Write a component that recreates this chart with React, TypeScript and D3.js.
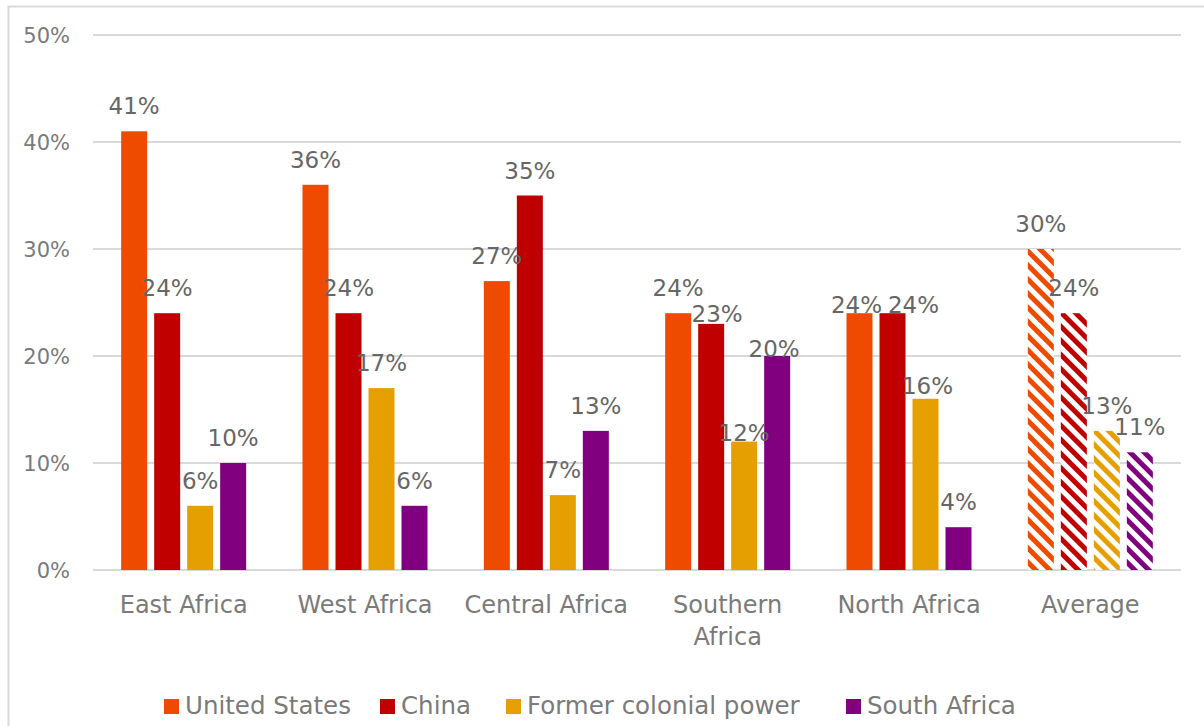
import React, { useEffect, useRef } from "react";
import * as d3 from "d3";

const categories = ["East Africa", "West Africa", "Central Africa", "Southern Africa", "North Africa", "Average"];
const seriesNames = ["United States", "China", "Former colonial power", "South Africa"];
const unitedStates = [41, 36, 27, 24, 24, 30];
const china = [24, 24, 35, 23, 24, 24];
const formerColonial = [6, 17, 7, 12, 16, 13];
const southAfrica = [10, 6, 13, 20, 4, 11];
const yTicks = [0, 10, 20, 30, 40, 50];
const hatchedCategories = ["Average"];

const seriesColors = ["#EE4B00", "#C00000", "#E69F00", "#800080"];

// layout nudges for value labels that were moved by hand in the original (dx, dy in px)
const labelNudges: Record<string, [number, number]> = {
  "Southern Africa|China": [6, 15],
  "Southern Africa|Former colonial power": [0, 16],
  "Southern Africa|South Africa": [-3, 18],
  "North Africa|United States": [-3, 17],
  "North Africa|China": [21, 17],
  "North Africa|Former colonial power": [2, 12],
};

const legendX = [164, 380, 506, 846];

const W = 1204;
const H = 726;
const FONT = "'DejaVu Sans', sans-serif";

export default function App() {
  const ref = useRef<SVGSVGElement>(null);

  useEffect(() => {
    const svg = d3.select(ref.current);
    svg.selectAll("*").remove();

    const values = [unitedStates, china, formerColonial, southAfrica];
    const data = categories.map((c, ci) => ({
      category: c,
      items: seriesNames.map((s, si) => ({ series: s, si, value: values[si][ci] })),
    }));

    const plotLeft = 93, plotRight = 1181, plotTop = 35, plotBottom = 570;
    const y = d3.scaleLinear().domain([0, 50]).range([plotBottom, plotTop]);
    const x0 = d3.scaleBand<string>().domain(categories).range([plotLeft, plotRight]).padding(0);
    const groupW = 125;
    const x1 = d3.scaleBand<string>().domain(seriesNames).range([0, groupW]).paddingInner(7 / 33).paddingOuter(0);
    const groupOffset = (x0.bandwidth() - groupW) / 2;

    // patterns
    const defs = svg.append("defs");
    seriesColors.forEach((col, i) => {
      const p = defs.append("pattern")
        .attr("id", `hatch${i}`)
        .attr("patternUnits", "userSpaceOnUse")
        .attr("width", 10)
        .attr("height", 10)
        .attr("patternTransform", "rotate(-45)");
      p.append("rect").attr("width", 10).attr("height", 10).attr("fill", "#fff");
      p.append("rect").attr("x", 0).attr("y", 0).attr("width", 5).attr("height", 10).attr("fill", col);
    });

    // chart border
    svg.append("rect")
      .attr("x", 8.5).attr("y", 6.5).attr("width", W + 20).attr("height", H + 20)
      .attr("fill", "none").attr("stroke", "#d9d9d9").attr("stroke-width", 2);

    // gridlines
    svg.append("g").selectAll("line").data(yTicks).join("line")
      .attr("x1", plotLeft).attr("x2", plotRight)
      .attr("y1", (d) => y(d)).attr("y2", (d) => y(d))
      .attr("stroke", "#d9d9d9").attr("stroke-width", 2);

    // y labels
    svg.append("g").selectAll("text").data(yTicks).join("text")
      .attr("x", 70).attr("y", (d) => y(d) + 8)
      .attr("text-anchor", "end")
      .attr("font-family", FONT).attr("font-size", 21).attr("fill", "#7a7a7a")
      .text((d) => `${d}%`);

    // bars
    const groups = svg.append("g").selectAll("g").data(data).join("g")
      .attr("transform", (d) => `translate(${(x0(d.category) as number) + groupOffset},0)`);

    groups.selectAll("rect").data((d) => d.items.map((it) => ({ ...it, category: d.category }))).join("rect")
      .attr("x", (d) => x1(d.series) as number)
      .attr("width", x1.bandwidth())
      .attr("y", (d) => y(d.value))
      .attr("height", (d) => y(0) - y(d.value))
      .attr("fill", (d) => hatchedCategories.includes(d.category) ? `url(#hatch${d.si})` : seriesColors[d.si]);

    groups.selectAll("text").data((d) => d.items.map((it) => ({ ...it, category: d.category }))).join("text")
      .attr("x", (d) => (x1(d.series) as number) + x1.bandwidth() / 2 + (labelNudges[`${d.category}|${d.series}`]?.[0] ?? 0))
      .attr("y", (d) => y(d.value) - 17 + (labelNudges[`${d.category}|${d.series}`]?.[1] ?? 0))
      .attr("text-anchor", "middle")
      .attr("font-family", FONT).attr("font-size", 23).attr("fill", "#666666")
      .text((d) => `${d.value}%`);

    // category labels
    const catG = svg.append("g");
    categories.forEach((c) => {
      const cx = (x0(c) as number) + x0.bandwidth() / 2;
      const t = catG.append("text")
        .attr("x", cx).attr("y", 613)
        .attr("text-anchor", "middle")
        .attr("font-family", FONT).attr("font-size", 24).attr("fill", "#7a7a7a")
        .text(c);
      const len = (t.node() as SVGTextElement).getComputedTextLength();
      if (len > x0.bandwidth()) {
        const words = c.split(" ");
        t.text(null);
        words.forEach((w, i) => {
          t.append("tspan").attr("x", cx).attr("dy", i === 0 ? 0 : 32).text(w);
        });
      }
    });

    // legend
    const lg = svg.append("g");
    seriesNames.forEach((s, i) => {
      lg.append("rect").attr("x", legendX[i]).attr("y", 699).attr("width", 15).attr("height", 15).attr("fill", seriesColors[i]);
      lg.append("text").attr("x", legendX[i] + 21).attr("y", 714)
        .attr("font-family", FONT).attr("font-size", 24.5).attr("fill", "#7a7a7a")
        .text(s);
    });
  }, []);

  return (
    <svg ref={ref} width={W} height={H} style={{ position: "absolute", left: 0, top: 0, background: "#fff" }} />
  );
}
